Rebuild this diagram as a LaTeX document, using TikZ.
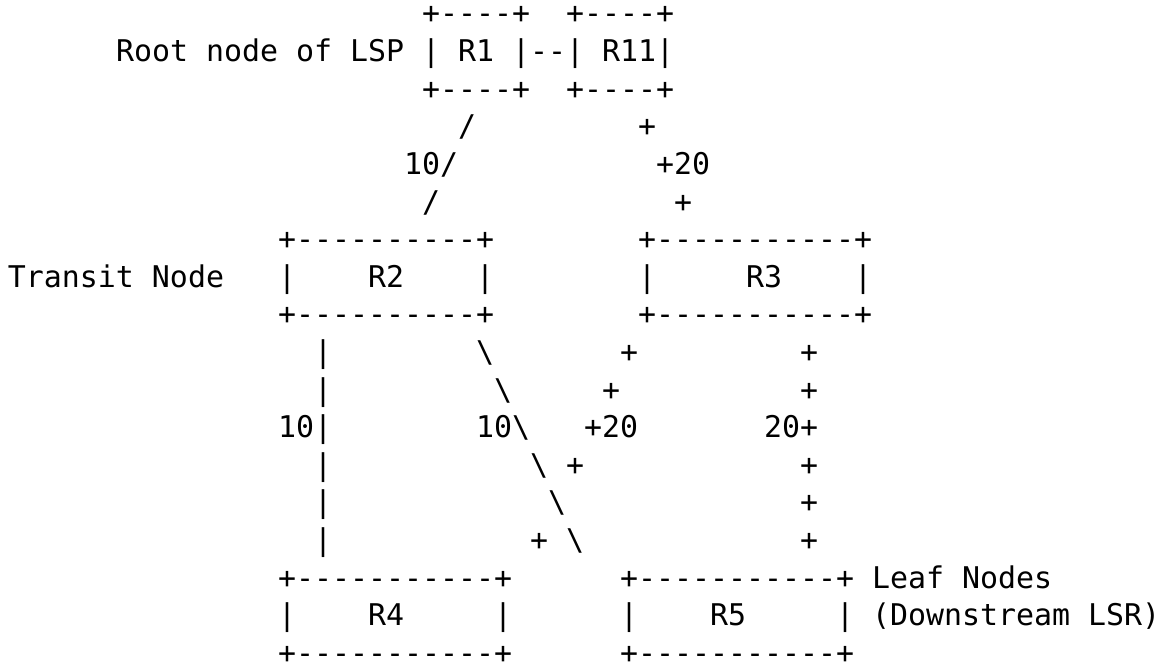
\documentclass[tikz,border=0pt]{standalone}
\usepackage{fontspec}
\setmonofont{DejaVu Sans Mono}
\usepackage{tikz}

\begin{document}
\begin{tikzpicture}[x=9pt, y=-18.8pt]
    % Define styles
    \tikzstyle{txt} = [anchor=base west, inner sep=0pt, outer sep=0pt, font=\ttfamily\fontsize{14.95pt}{18.8pt}\selectfont]
    \useasboundingbox (-0.444,-0.638) rectangle (64.83,17.18);

    % Root of the LSP
    \node [txt] (r1top) at (23,0) {+----+~~+----+};
    \node [txt] (rootlabel) at (6,1) {Root node of LSP};
    \node [txt] (r1mid) at (23,1) {|~R1~|--|~R11|};
    \node [txt] (r1bot) at (23,2) {+----+~~+----+};

    % Links down from R1 and R11
    \node [txt] (s1) at (25,3) {/};
    \node [txt] (s2) at (22,4) {10/};
    \node [txt] (s3) at (23,5) {/};
    \node [txt] (p1) at (35,3) {+};
    \node [txt] (p2) at (36,4) {+20};
    \node [txt] (p3) at (37,5) {+};

    % Transit nodes
    \node [txt] (r2top) at (15,6) {+----------+};
    \node [txt] (r3top) at (35,6) {+-----------+};
    \node [txt] (transit) at (0,7) {Transit Node};
    \node [txt] (r2mid) at (15,7) {|~~~~R2~~~~|};
    \node [txt] (r3mid) at (35,7) {|~~~~~R3~~~~|};
    \node [txt] (r2bot) at (15,8) {+----------+};
    \node [txt] (r3bot) at (35,8) {+-----------+};

    % Links down to the leaves
    \foreach \r in {9,10,12,13,14}
        \node [txt] (bar\r) at (17,\r) {|};
    \node [txt] (bar11) at (15,11) {10|};
    \foreach \r/\c in {9/26,10/27,12/29,13/30,14/31}
        \node [txt] (bs\r) at (\c,\r) {\textbackslash};
    \node [txt] (bs11) at (26,11) {10\textbackslash};
    \foreach \r/\c in {9/34,10/33,12/31,14/29}
        \node [txt] (dp\r) at (\c,\r) {+};
    \node [txt] (dp11) at (32,11) {+20};
    \foreach \r in {9,10,12,13,14}
        \node [txt] (rp\r) at (44,\r) {+};
    \node [txt] (rp11) at (42,11) {20+};

    % Leaf nodes
    \node [txt] (r4top) at (15,15) {+-----------+};
    \node [txt] (r5top) at (34,15) {+-----------+};
    \node [txt] (leaf) at (48,15) {Leaf Nodes};
    \node [txt] (r4mid) at (15,16) {|~~~~R4~~~~~|};
    \node [txt] (r5mid) at (34,16) {|~~~~R5~~~~~|};
    \node [txt] (down) at (48,16) {(Downstream LSR)};
    \node [txt] (r4bot) at (15,17) {+-----------+};
    \node [txt] (r5bot) at (34,17) {+-----------+};
\end{tikzpicture}
\end{document}
